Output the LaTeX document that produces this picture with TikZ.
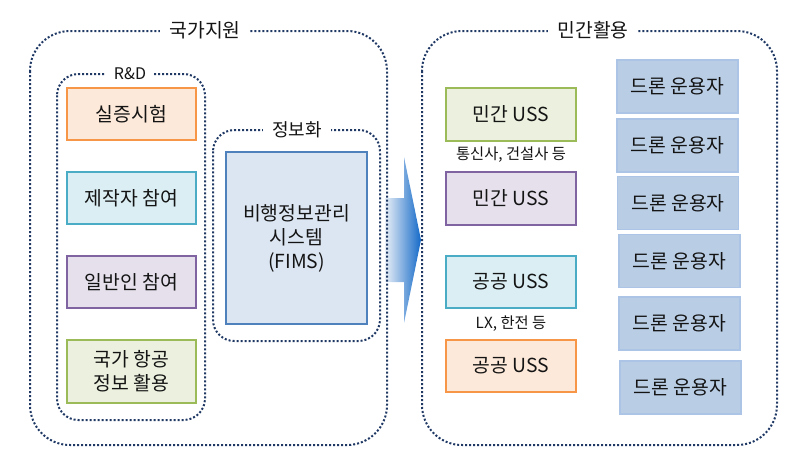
\documentclass[tikz,border=0pt]{standalone}
\usepackage{fontspec}
\setmainfont{Noto Sans CJK KR}
\usetikzlibrary{arrows.meta, calc, positioning}

\definecolor{dotblue}{RGB}{31,56,100}
\definecolor{orgline}{RGB}{247,150,70}
\definecolor{orgfill}{RGB}{253,233,217}
\definecolor{cyaline}{RGB}{75,172,198}
\definecolor{cyafill}{RGB}{218,238,243}
\definecolor{purline}{RGB}{128,100,162}
\definecolor{purfill}{RGB}{229,224,236}
\definecolor{grnline}{RGB}{155,187,89}
\definecolor{grnfill}{RGB}{235,241,222}
\definecolor{bluline}{RGB}{79,129,189}
\definecolor{blufill}{RGB}{220,230,242}
\definecolor{drnline}{RGB}{172,196,230}
\definecolor{drnfill}{RGB}{185,205,229}
\definecolor{txt}{RGB}{20,20,20}

\begin{document}
\begin{tikzpicture}[x=0.75pt, y=-0.75pt,
		every node/.style={text=txt},
		group/.style={draw=dotblue, line width=1.5pt, dash pattern=on 1.5pt off 1.5pt},
		grouptitle/.style={fill=white, inner xsep=7pt, inner ysep=2pt},
		box/.style={draw, line width=1.5pt, align=center, font=\fontsize{14.5}{18}\selectfont},
		leftbox/.style={box, minimum width=96.75pt, minimum height=39pt},
		ussbox/.style={box, minimum width=97.5pt, minimum height=39.5pt},
		dronebox/.style={box, draw=drnline, fill=drnfill, line width=1.2pt, minimum width=90.75pt, minimum height=39.5pt},
		note/.style={font=\fontsize{11.5}{13}\selectfont}]
		
		\useasboundingbox (0,0) rectangle (800,464);
		
		% --- 1. THE ARROW (between the two groups) ---
		\shade[left color=blufill!60, right color={rgb,255:red,20;green,105;blue,200}]
		(385,198) -- (404,198) -- (404,157) -- (421,240) -- (404,323) -- (404,282) -- (385,282) -- cycle;
		
		% --- 2. NATIONAL SUPPORT (left group) ---
		\draw[group, rounded corners=30pt] (30,31) rectangle (387,445);
		\draw[group, rounded corners=16pt] (57,74) rectangle (205,420);
		\draw[group, rounded corners=16pt] (213,130) rectangle (380,341);
		
		\node[grouptitle, font=\fontsize{14.5}{17}\selectfont] (nat) at (205,30) {국가지원};
		\node[grouptitle, font=\fontsize{12}{14}\selectfont, inner xsep=6pt] (rnd) at (130,74) {R\&D};
		\node[grouptitle, font=\fontsize{13.5}{16}\selectfont] (info) at (297,130) {정보화};
		
		% R&D boxes
		\node[leftbox, draw=orgline, fill=orgfill] (test) at (131.5,114) {실증시험};
		\node[leftbox, draw=cyaline, fill=cyafill] (maker) at (131.5,198) {제작자 참여};
		\node[leftbox, draw=purline, fill=purfill] (public) at (131.5,282) {일반인 참여};
		\node[leftbox, draw=grnline, fill=grnfill, minimum height=47pt] (aero) at (131.5,371.5) {국가 항공\\정보 활용};
		
		% Flight information system
		\node[box, draw=bluline, fill=blufill, minimum width=105.75pt, minimum height=129pt] (fims) at (296.5,238)
		{비행정보관리\\시스템\\(FIMS)};
		
		% --- 3. PRIVATE USE (right group) ---
		\draw[group, rounded corners=30pt] (422,31) rectangle (777,445);
		\node[grouptitle, font=\fontsize{14.5}{17}\selectfont] (priv) at (593,30) {민간활용};
		
		% USS boxes
		\node[ussbox, draw=grnline, fill=grnfill] (uss1) at (511,114.5) {민간 USS};
		\node[note] (tel) at (511,155) {통신사, 건설사 등};
		\node[ussbox, draw=purline, fill=purfill] (uss2) at (511,198.5) {민간 USS};
		\node[ussbox, draw=cyaline, fill=cyafill] (uss3) at (511,282) {공공 USS};
		\node[note] (lx) at (511,324) {LX, 한전 등};
		\node[ussbox, draw=orgline, fill=orgfill] (uss4) at (511,366) {공공 USS};
		
		% Drone operators
		\node[dronebox] (op1) at (677.5,86.5) {드론 운용자};
		\node[dronebox] (op2) at (677.5,145.5) {드론 운용자};
		\node[dronebox] (op3) at (678,203) {드론 운용자};
		\node[dronebox] (op4) at (679.5,261) {드론 운용자};
		\node[dronebox] (op5) at (679.5,323.5) {드론 운용자};
		\node[dronebox] (op6) at (680.5,387.5) {드론 운용자};
		
	\end{tikzpicture}
\end{document}
